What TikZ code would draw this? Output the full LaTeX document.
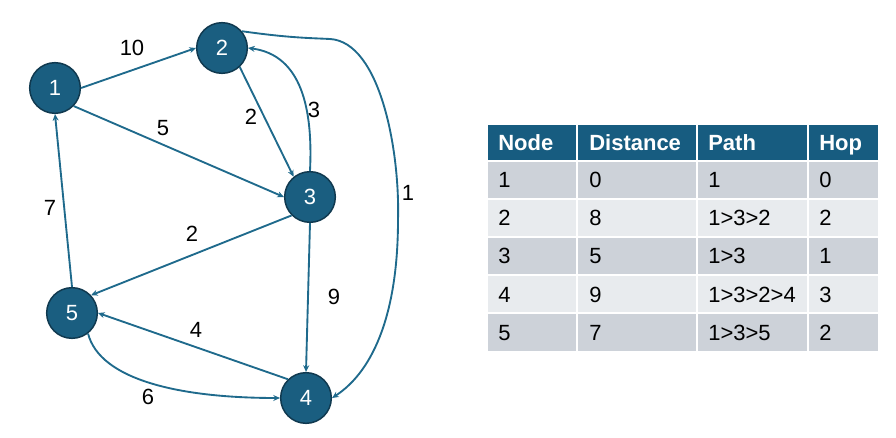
\documentclass[tikz,border=0pt]{standalone}
\usepackage{fontspec}
\setmainfont{Liberation Sans}
\usetikzlibrary{arrows.meta}
\definecolor{nodefill}{HTML}{1A5E80}
\definecolor{nodeborder}{HTML}{10394F}
\definecolor{edgecol}{HTML}{1F6A8C}
\definecolor{headfill}{HTML}{175C80}
\definecolor{rowdark}{HTML}{CDD2D9}
\definecolor{rowlight}{HTML}{E8EBEE}
\begin{document}
\begin{tikzpicture}[x=0.75pt,y=-0.75pt,font=\fontsize{16.5}{19}\selectfont,
  vertex/.style={circle,fill=nodefill,draw=nodeborder,line width=1.1pt,minimum size=38pt,inner sep=0pt,text=white},
  edge/.style={draw=edgecol,line width=1.4pt,-{Stealth[length=5pt,width=4.5pt]}},
  wlabel/.style={text=black,inner sep=0pt},
  hcell/.style={anchor=base west,inner sep=0pt,text=white,font=\fontsize{16.5}{19}\selectfont\bfseries},
  bcell/.style={anchor=base west,inner sep=0pt,text=black}]
\useasboundingbox (0,0) rectangle (896,438);
% graph nodes
\node[vertex] (n1) at (55,88) {1};
\node[vertex] (n2) at (222,48) {2};
\node[vertex] (n3) at (310,197) {3};
\node[vertex] (n4) at (306,398) {4};
\node[vertex] (n5) at (72,313) {5};
% edges
\draw[edge] (n1.east) -- (n2.west);
\draw[edge] (n1.-44) -- (n3.west);
\draw[edge] (n2.-47) -- (n3.129);
\draw[edge] (n3.north) .. controls (313,110) and (302,55) .. (n2.east);
\draw[edge] (n2.40) .. controls (290,38) and (310,38) .. (330,39) .. controls (380,42) and (400,150) .. (398,220) .. controls (398,310) and (375,370) .. (n4.east);
\draw[edge] (n3.225) -- (n5.43);
\draw[edge] (n3.south) -- (n4.north);
\draw[edge] (n4.134) -- (n5.east);
\draw[edge] (n5.-52) .. controls (100,380) and (180,398) .. (n4.west);
\draw[edge] (n5.north) -- (n1.south);
% edge labels
\node[wlabel] (l12) at (132,48) {10};
\node[wlabel] (l13) at (163,128) {5};
\node[wlabel] (l23) at (251,117) {2};
\node[wlabel] (l32) at (314,110) {3};
\node[wlabel] (l24) at (408,193) {1};
\node[wlabel] (l51) at (50,208) {7};
\node[wlabel] (l35) at (192,234) {2};
\node[wlabel] (l34) at (334,297) {9};
\node[wlabel] (l45) at (196,330) {4};
\node[wlabel] (l54) at (148,397) {6};
% table backgrounds
\fill[headfill] (488,125) rectangle (878,161);
\fill[rowdark] (488,161) rectangle (878,199);
\fill[rowlight] (488,199) rectangle (878,237);
\fill[rowdark] (488,237) rectangle (878,275);
\fill[rowlight] (488,275) rectangle (878,313);
\fill[rowdark] (488,313) rectangle (878,351);
\draw[white,line width=2pt] (488,161) -- (878,161);
\foreach \yy in {199,237,275,313} \draw[white,line width=1.4pt] (488,\yy) -- (878,\yy);
\foreach \xx in {577,697,808} \draw[white,line width=1.4pt] (\xx,125) -- (\xx,351);
% header
\node[hcell] (h1) at (498,151) {Node};
\node[hcell] (h2) at (589,151) {Distance};
\node[hcell] (h3) at (708,151) {Path};
\node[hcell] (h4) at (819,151) {Hop};
% body
\node[bcell] (a1) at (498,188) {1};
\node[bcell] (b1) at (589,188) {0};
\node[bcell] (c1) at (708,188) {1};
\node[bcell] (d1) at (819,188) {0};
\node[bcell] (a2) at (498,226) {2};
\node[bcell] (b2) at (589,226) {8};
\node[bcell] (c2) at (708,226) {1>3>2};
\node[bcell] (d2) at (819,226) {2};
\node[bcell] (a3) at (498,264) {3};
\node[bcell] (b3) at (589,264) {5};
\node[bcell] (c3) at (708,264) {1>3};
\node[bcell] (d3) at (819,264) {1};
\node[bcell] (a4) at (498,302) {4};
\node[bcell] (b4) at (589,302) {9};
\node[bcell] (c4) at (708,302) {1>3>2>4};
\node[bcell] (d4) at (819,302) {3};
\node[bcell] (a5) at (498,340) {5};
\node[bcell] (b5) at (589,340) {7};
\node[bcell] (c5) at (708,340) {1>3>5};
\node[bcell] (d5) at (819,340) {2};
\end{tikzpicture}
\end{document}
